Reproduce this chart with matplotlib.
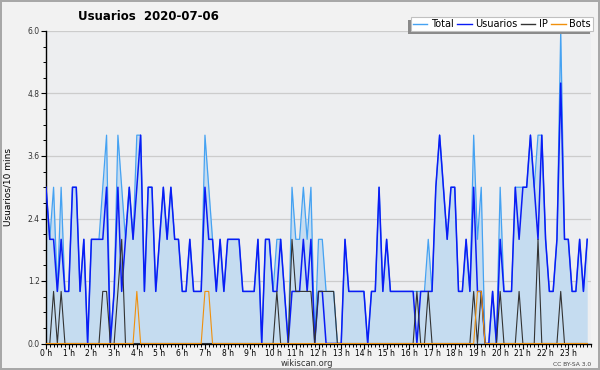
# -*- coding: utf-8 -*-
import numpy as np
import matplotlib.pyplot as plt
from matplotlib.ticker import MultipleLocator, FormatStrFormatter
from matplotlib.lines import Line2D
from matplotlib.patches import Rectangle

# users per 10 minute slot, 2020-07-06 (144 slots, 12 per row = 2 hours)
usuarios = [3, 2, 2, 1, 2, 1, 1, 3, 3, 1, 2, 0,
            2, 2, 2, 2, 3, 0, 1, 3, 1, 2, 3, 2,
            3, 4, 1, 3, 3, 1, 2, 3, 2, 3, 2, 2,
            1, 1, 2, 1, 1, 1, 3, 2, 2, 1, 2, 1,
            2, 2, 2, 2, 1, 1, 1, 1, 2, 0, 2, 2,
            1, 1, 2, 1, 0, 1, 1, 1, 2, 1, 2, 0,
            1, 1, 0, 0, 0, 0, 0, 2, 1, 1, 1, 1,
            1, 0, 1, 1, 3, 1, 2, 1, 1, 1, 1, 1,
            1, 1, 0, 1, 1, 1, 1, 3, 4, 3, 2, 3,
            3, 1, 1, 2, 1, 3, 1, 1, 0, 0, 1, 0,
            2, 1, 1, 1, 3, 2, 3, 3, 4, 3, 2, 4,
            2, 1, 1, 2, 5, 2, 2, 1, 1, 2, 1, 2]

ip = [0, 0, 1, 0, 1, 0, 0, 0, 0, 0, 0, 0,
      0, 0, 0, 1, 1, 0, 0, 1, 2, 0, 0, 0,
      0, 0, 0, 0, 0, 0, 0, 0, 0, 0, 0, 0,
      0, 0, 0, 0, 0, 0, 0, 0, 0, 0, 0, 0,
      0, 0, 0, 0, 0, 0, 0, 0, 0, 0, 0, 0,
      0, 1, 0, 0, 0, 2, 1, 1, 1, 1, 1, 0,
      1, 1, 1, 1, 1, 0, 0, 0, 0, 0, 0, 0,
      0, 0, 0, 0, 0, 0, 0, 0, 0, 0, 0, 0,
      0, 0, 1, 0, 0, 1, 0, 0, 0, 0, 0, 0,
      0, 0, 0, 0, 0, 1, 0, 1, 0, 0, 0, 0,
      1, 0, 0, 0, 0, 1, 0, 0, 0, 0, 2, 0,
      0, 0, 0, 0, 1, 0, 0, 0, 0, 0, 0, 0]

bots = [0, 0, 0, 0, 0, 0, 0, 0, 0, 0, 0, 0,
        0, 0, 0, 0, 0, 0, 0, 0, 0, 0, 0, 0,
        1, 0, 0, 0, 0, 0, 0, 0, 0, 0, 0, 0,
        0, 0, 0, 0, 0, 0, 1, 1, 0, 0, 0, 0,
        0, 0, 0, 0, 0, 0, 0, 0, 0, 0, 0, 0,
        0, 0, 0, 0, 0, 0, 0, 0, 0, 0, 0, 0,
        0, 0, 0, 0, 0, 0, 0, 0, 0, 0, 0, 0,
        0, 0, 0, 0, 0, 0, 0, 0, 0, 0, 0, 0,
        0, 0, 0, 0, 0, 0, 0, 0, 0, 0, 0, 0,
        0, 0, 0, 0, 0, 0, 1, 1, 0, 0, 0, 0,
        0, 0, 0, 0, 0, 0, 0, 0, 0, 0, 0, 0,
        0, 0, 0, 0, 0, 0, 0, 0, 0, 0, 0, 0]

total = [3, 2, 3, 1, 3, 1, 1, 3, 3, 1, 2, 0,
         2, 2, 2, 3, 4, 0, 1, 4, 3, 2, 3, 2,
         4, 4, 1, 3, 3, 1, 2, 3, 2, 3, 2, 2,
         1, 1, 2, 1, 1, 1, 4, 3, 2, 1, 2, 1,
         2, 2, 2, 2, 1, 1, 1, 1, 2, 0, 2, 2,
         1, 2, 2, 1, 0, 3, 2, 2, 3, 2, 3, 0,
         2, 2, 1, 1, 1, 0, 0, 2, 1, 1, 1, 1,
         1, 0, 1, 1, 3, 1, 2, 1, 1, 1, 1, 1,
         1, 1, 1, 1, 1, 2, 1, 3, 4, 3, 2, 3,
         3, 1, 1, 2, 1, 4, 2, 3, 0, 0, 1, 0,
         3, 1, 1, 1, 3, 3, 3, 3, 4, 3, 4, 4,
         2, 1, 1, 2, 6, 2, 2, 1, 1, 2, 1, 2]

hour_labels = ['%d h' % h for h in range(24)]

c_total = '#45a2f2'
c_users = '#0a1cf5'
c_ip = '#333333'
c_bots = '#f0900c'
c_fill = '#c5dcf0'

fig = plt.figure(figsize=(6, 3.7), dpi=100)
fig.patch.set_facecolor('#f2f2f2')
fig.patch.set_edgecolor('#a8a8a8')
fig.patch.set_linewidth(1.5)

ax = fig.add_axes([46/600, 1 - 343.5/370, 545/600, 312.5/370])
ax.set_facecolor('#edeef0')

x = np.arange(len(total)) / 6.0

ax.fill_between(x, total, 0, color=c_fill, lw=0, zorder=1)
ax.plot(x, total, color=c_total, lw=0.9, zorder=2)
ax.plot(x, usuarios, color=c_users, lw=1.1, zorder=3)
ax.plot(x, ip, color=c_ip, lw=0.8, zorder=4)
ax.plot(x, bots, color=c_bots, lw=0.8, zorder=5)

ax.set_xlim(0, 24)
ax.set_ylim(0, 6)
ax.set_xticks(range(24))
ax.set_xticklabels(hour_labels)
ax.xaxis.set_minor_locator(MultipleLocator(1/6.0))
ax.set_yticks(np.arange(0, 6.01, 1.2))
ax.yaxis.set_major_formatter(FormatStrFormatter('%.1f'))
ax.yaxis.set_minor_locator(MultipleLocator(0.3))

ax.grid(True, axis='y', color='#cccccc', lw=0.9, zorder=0)
ax.set_axisbelow(True)

for side in ['top', 'right']:
    ax.spines[side].set_visible(False)
ax.spines['left'].set_linewidth(1.0)
ax.spines['bottom'].set_linewidth(1.0)

ax.tick_params(axis='both', which='major', labelsize=5.5, length=3.5, width=0.8,
               pad=0.5, colors='black')
ax.tick_params(axis='both', which='minor', length=2.5, width=0.7)
ax.tick_params(axis='y', labelcolor='#333333', pad=1)

ax.set_ylabel('Usuarios/10 mins', fontsize=6.5)
ax.yaxis.set_label_coords(-0.062, 0.5)

fig.text(0.247, 0.955, 'Usuarios  2020-07-06', fontsize=8.5, fontweight='bold',
         ha='center', va='center')

handles = [Line2D([], [], color=c_total, lw=1.0),
           Line2D([], [], color=c_users, lw=1.0),
           Line2D([], [], color=c_ip, lw=1.0),
           Line2D([], [], color=c_bots, lw=1.0)]
leg = fig.legend(handles, ['Total', 'Usuarios', 'IP', 'Bots'], ncol=4,
                 loc='upper right', bbox_to_anchor=(593/600, 1 - 17/370),
                 borderaxespad=0, fontsize=7, handlelength=1.5,
                 handletextpad=0.4, columnspacing=0.3, borderpad=0.2,
                 fancybox=False, shadow=False, framealpha=1,
                 edgecolor='#c0c0c0')
leg.get_frame().set_linewidth(0.8)
leg.set_zorder(10)

# legend shadow on the left / bottom side like the original
fig.canvas.draw()
bb = leg.get_window_extent().transformed(fig.transFigure.inverted())
dx, dy = 3/600, 3/370
fig.patches.append(Rectangle((bb.x0 - dx, bb.y0 - dy), bb.width, bb.height,
                             transform=fig.transFigure, facecolor='#8a8a8a',
                             edgecolor='none', zorder=9))

fig.text(307/600, 1 - 363/370, 'wikiscan.org', fontsize=6, ha='center',
         va='center', color='#333333')
fig.text(572/600, 1 - 364.5/370, 'CC BY-SA 3.0', fontsize=4.3, ha='center',
         va='center', color='#444444')

fig.savefig('out.png', dpi=100, facecolor=fig.get_facecolor(),
            edgecolor=fig.get_edgecolor())
